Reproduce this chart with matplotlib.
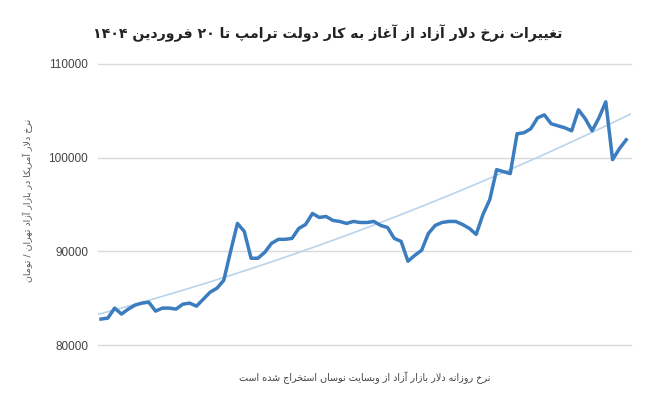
import re
import numpy as np
import matplotlib
matplotlib.use('Agg')
import matplotlib.pyplot as plt

# daily free-market USD rate (toman)
rate = [82770, 82870, 83940, 83300, 83830, 84260, 84470, 84570, 83620, 83940,
        83940, 83830, 84360, 84470, 84150, 84890, 85640, 86060, 86910, 90000,
        92980, 92130, 89260, 89260, 89890, 90850, 91280, 91280, 91380, 92450,
        92870, 94040, 93620, 93720, 93300, 93190, 92980, 93190, 93080, 93080,
        93190, 92770, 92550, 91380, 91060, 88940, 89570, 90110, 91910, 92770,
        93080, 93190, 93190, 92870, 92450, 91810, 93940, 95530, 98720, 98510,
        98300, 102550, 102660, 103080, 104250, 104570, 103620, 103400, 103190, 102870,
        105110, 104150, 102870, 104250, 105960, 99790, 100960, 101910]
yticks = [80000, 90000, 100000, 110000]

title = 'تغییرات نرخ دلار آزاد از آغاز به کار دولت ترامپ تا ۲۰ فروردین ۱۴۰۴'
ylabel = 'نرخ دلار آمریکا در بازار آزاد تهران / تومان'
source = 'نرخ روزانه دلار بازار آزاد از وبسایت نوسان استخراج شده است'

# minimal persian shaping: (isolated, final, initial, medial)
FORMS = {
    'ا': (0xFE8D, 0xFE8E, None, None), 'آ': (0xFE81, 0xFE82, None, None),
    'ب': (0xFE8F, 0xFE90, 0xFE91, 0xFE92), 'پ': (0xFB56, 0xFB57, 0xFB58, 0xFB59),
    'ت': (0xFE95, 0xFE96, 0xFE97, 0xFE98), 'ج': (0xFE9D, 0xFE9E, 0xFE9F, 0xFEA0),
    'خ': (0xFEA5, 0xFEA6, 0xFEA7, 0xFEA8), 'د': (0xFEA9, 0xFEAA, None, None),
    'ر': (0xFEAD, 0xFEAE, None, None), 'ز': (0xFEAF, 0xFEB0, None, None),
    'س': (0xFEB1, 0xFEB2, 0xFEB3, 0xFEB4), 'ش': (0xFEB5, 0xFEB6, 0xFEB7, 0xFEB8),
    'غ': (0xFECD, 0xFECE, 0xFECF, 0xFED0), 'ف': (0xFED1, 0xFED2, 0xFED3, 0xFED4),
    'ک': (0xFB8E, 0xFB8F, 0xFB90, 0xFB91), 'ل': (0xFEDD, 0xFEDE, 0xFEDF, 0xFEE0),
    'م': (0xFEE1, 0xFEE2, 0xFEE3, 0xFEE4), 'ن': (0xFEE5, 0xFEE6, 0xFEE7, 0xFEE8),
    'ه': (0xFEE9, 0xFEEA, 0xFEEB, 0xFEEC), 'و': (0xFEED, 0xFEEE, None, None),
    'ی': (0xFBFC, 0xFBFD, 0xFBFE, 0xFBFF),
}
LAMALEF = {'ا': (0xFEFB, 0xFEFC), 'آ': (0xFEF5, 0xFEF6)}


def dual(c):
    return c in FORMS and FORMS[c][2] is not None


def fa(text):
    out = []
    i = 0
    while i < len(text):
        c = text[i]
        prev = i > 0 and dual(text[i - 1])
        if c == 'ل' and i + 1 < len(text) and text[i + 1] in LAMALEF:
            out.append(chr(LAMALEF[text[i + 1]][1 if prev else 0]))
            i += 2
            continue
        if c in FORMS:
            nxt = dual(c) and i + 1 < len(text) and text[i + 1] in FORMS
            f = FORMS[c]
            if prev and nxt:
                out.append(chr(f[3]))
            elif prev:
                out.append(chr(f[1]))
            elif nxt:
                out.append(chr(f[2]))
            else:
                out.append(chr(f[0]))
        else:
            out.append(c)
        i += 1
    parts = re.split(r'([0-9۰-۹]+)', ''.join(out))
    return ''.join(p if re.fullmatch(r'[0-9۰-۹]+', p) else p[::-1] for p in parts[::-1])


fig = plt.figure(figsize=(6.5, 4.03), dpi=100)
ax = fig.add_axes([98 / 650, 1 - 345 / 403, 533 / 650, 281 / 403])

x = np.arange(len(rate))
coef = np.polyfit(x, rate, 2)
xt = np.linspace(-0.44, 77.7, 100)
ax.plot(xt, np.polyval(coef, xt), color='#b9d4ec', lw=1.2, zorder=2)
ax.plot(x, rate, color='#3b7dbf', lw=2.5, zorder=3, solid_joinstyle='round')

ax.set_xlim(-0.44, 77.7)
ax.set_ylim(80000, 110000)
ax.set_yticks(yticks)
ax.set_yticklabels([str(v) for v in yticks], family='Liberation Sans', fontsize=8.5, color='#444444')
ax.set_xticks([])
ax.tick_params(axis='y', length=0, pad=7)
ax.grid(axis='y', color='#d9d9d9', lw=1)
for g in ax.yaxis.get_gridlines():
    g.set_clip_on(False)
for s in ax.spines.values():
    s.set_visible(False)

fig.text(328 / 650, 1 - 33 / 403, fa(title), ha='center', va='center',
         fontsize=10.2, fontweight='bold', color='#222222', family='DejaVu Sans')
fig.text(28 / 650, 1 - 200 / 403, fa(ylabel), ha='center', va='center', rotation=90,
         fontsize=6.8, color='#555555', family='DejaVu Sans')
fig.text(365 / 650, 1 - 378 / 403, fa(source), ha='center', va='center',
         fontsize=6.9, color='#444444', family='DejaVu Sans')

fig.savefig('out.png', dpi=100)
